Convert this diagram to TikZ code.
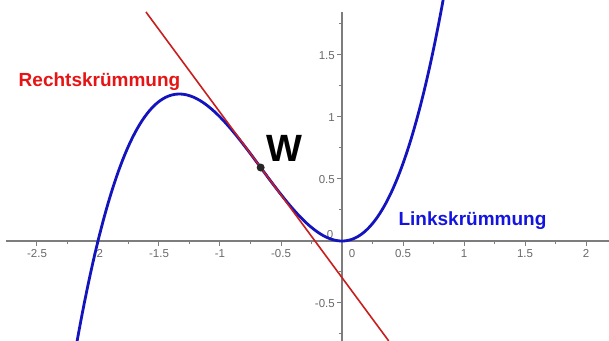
\documentclass[tikz,border=0pt]{standalone}
\usepackage{fontspec}
\setmainfont{Liberation Sans}
\definecolor{axisgray}{RGB}{125,125,125}
\definecolor{labgray}{RGB}{105,105,105}
\definecolor{curveblue}{RGB}{20,20,190}
\definecolor{tanred}{RGB}{200,30,30}
\definecolor{textred}{RGB}{230,20,20}
\definecolor{textblue}{RGB}{20,20,225}
\begin{document}
\begin{tikzpicture}[x=122pt,y=124pt,
  axisline/.style={draw=axisgray, line width=1.3pt},
  tickline/.style={draw=axisgray, line width=1pt},
  ticklab/.style={font=\fontsize{11.5}{12}\selectfont, text=labgray, inner sep=0pt, text height=8.2pt, text depth=0pt},
  curveline/.style={draw=curveblue, line width=2.8pt},
  tangentline/.style={draw=tanred, line width=1.6pt},
  bigtext/.style={font=\fontsize{19}{20}\selectfont\bfseries, inner sep=0pt, anchor=base},
  dotnode/.style={circle, fill=black!85, inner sep=0pt, minimum size=8pt}]
\useasboundingbox ({-342/122},{-100/124}) rectangle ({267/122},{241/124});
% axes
\coordinate (xa) at ({-336/122},0);
\coordinate (xb) at ({267/122},0);
\coordinate (ya) at (0,{-100/124});
\coordinate (yb) at (0,{229/124});
\draw[axisline] (xa) -- (xb);
\draw[axisline] (ya) -- (yb);
% x ticks
\foreach \x in {-2.5,-2,-1.5,-1,-0.5,0.5,1,1.5,2}
  \draw[tickline] (\x,0) -- ++(0,-5pt);
\foreach \x in {-2.25,-1.75,-1.25,-0.75,-0.25,0.25,0.75,1.25,1.75}
  \draw[tickline] (\x,0) -- ++(0,-3pt);
% y ticks
\foreach \y in {-0.5,0.5,1,1.5}
  \draw[tickline] (0,\y) -- ++(-5pt,0);
\foreach \y in {-0.75,-0.25,0.25,0.75,1.25,1.75}
  \draw[tickline] (0,\y) -- ++(-3pt,0);
% x labels
\foreach \x [count=\i] in {-2.5,-2,-1.5,-1,-0.5,0.5,1,1.5,2}
  \node[ticklab, anchor=north] (xl\i) at ([yshift=-8.5pt]\x,0) {\x};
\node[ticklab] (xl0) at ({10/122},{-12/124}) {0};
% y labels
\foreach \y [count=\i] in {-0.5,0.5,1,1.5}
  \node[ticklab, anchor=east] (yl\i) at ([xshift=-7pt]0,\y) {\y};
\node[ticklab] (yl0) at ({-12/122},{7/124}) {0};
% curve
\begin{scope}
\clip ({-342/122},{-100/124}) rectangle ({267/122},{241/124});
\draw[curveline] plot[domain=-2.19:0.84, samples=160, smooth] (\x,{\x*\x*\x+2*\x*\x});
\end{scope}
% tangent
\coordinate (tA) at (-1.607,1.847);
\coordinate (tB) at (0.383,-0.806);
\draw[tangentline] (tA) -- (tB);
% inflection point
\node[dotnode] (wdot) at ({-2/3},{16/27}) {};
\node[bigtext, font=\fontsize{38}{40}\selectfont\bfseries] (wlab) at ({-57.5/122},{79/124}) {W};
% labels
\node[bigtext, text=textred] (rk) at ({-242.5/122},{154/124}) {Rechtskrümmung};
\node[bigtext, text=textblue] (lk) at ({130.5/122},{15/124}) {Linkskrümmung};
\end{tikzpicture}
\end{document}
